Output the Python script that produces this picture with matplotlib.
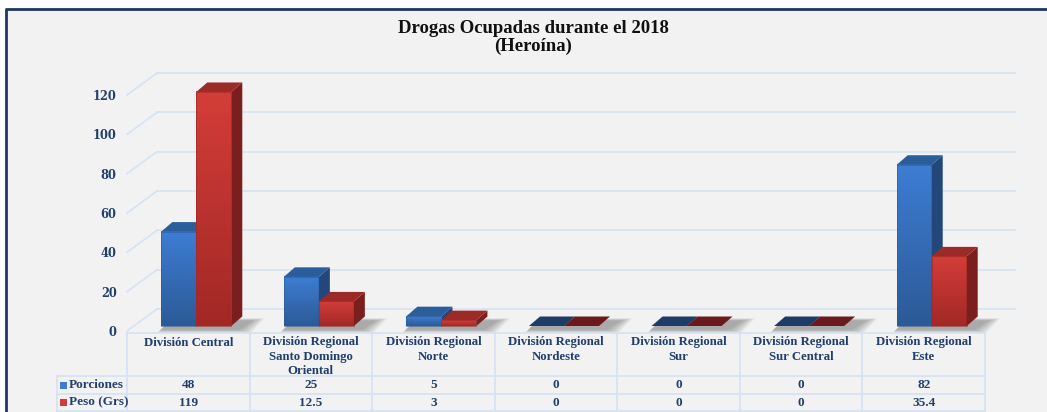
import numpy as np
import matplotlib
matplotlib.use("Agg")
import matplotlib.pyplot as plt
from matplotlib.patches import Polygon, Rectangle
from matplotlib.transforms import blended_transform_factory
from matplotlib.lines import Line2D
from matplotlib.colors import LinearSegmentedColormap

# ---------------- data ----------------
categories = ["División Central",
              "División Regional\nSanto Domingo\nOriental",
              "División Regional\nNorte",
              "División Regional\nNordeste",
              "División Regional\nSur",
              "División Regional\nSur Central",
              "División Regional\nEste"]
porciones = [48, 25, 5, 0, 0, 0, 82]
peso = [119, 12.5, 3, 0, 0, 0, 35.4]
porciones_labels = ["48", "25", "5", "0", "0", "0", "82"]
peso_labels = ["119", "12.5", "3", "0", "0", "0", "35.4"]
series_names = ["Porciones", "Peso (Grs)"]
yticks = [0, 20, 40, 60, 80, 100, 120]
title_text = "Drogas Ocupadas durante el 2018\n(Heroína)"

# ---------------- style ----------------
W, H = 1047, 412
FONT = ["Liberation Serif", "DejaVu Serif"]
NAVY = "#1f3864"
TXT = "#213f6e"
GRID = "#d6e3f3"
plt.rcParams["font.family"] = FONT

fig = plt.figure(figsize=(W / 100, H / 100), dpi=100)
fig.patch.set_facecolor("white")


def fx(px):
    return px / W


def fy(py):
    return 1 - py / H


# background panel + border
fig.patches.append(Rectangle((fx(5), 0), 1 - fx(5), fy(8), transform=fig.transFigure,
                             facecolor="#f2f2f2", edgecolor="none", zorder=-10))
fig.add_artist(Line2D([fx(5.5), fx(5.5)], [0, fy(8.5)], transform=fig.transFigure,
                      color=NAVY, lw=2, solid_capstyle="butt", zorder=-5))
fig.add_artist(Line2D([fx(4.5), 1], [fy(8.5), fy(8.5)], transform=fig.transFigure,
                      color=NAVY, lw=2, solid_capstyle="butt", zorder=-5))

fig.text(fx(533), fy(37.5), title_text, ha="center", va="center", fontsize=13.5,
         fontweight="bold", color="#111111", linespacing=1.1)

# main axes: front plane, value 0 at px 331, 120 at px 95
ax = fig.add_axes([fx(127), fy(331), 858 / W, (331 - 95) / H])
ax.set_zorder(1)
ax.set_xlim(-0.5, 6.5)
ax.set_ylim(0, 120)
ax.patch.set_visible(False)
for sp in ax.spines.values():
    sp.set_visible(False)
ax.set_xticks([])
ax.set_yticks(yticks)
ax.set_yticklabels([str(v) for v in yticks], fontsize=8.3, fontweight="bold", color=TXT,
                   family="DejaVu Serif")
ax.tick_params(axis="y", length=0, pad=7.5)

PX = 7 / 858.0      # data x per pixel
PY = 120 / 236.0    # data y per pixel

# 3D depth of floor/walls
FDX, FDY = 30 * PX, 22 * PY
for v in yticks:
    ax.plot([-0.5 + FDX, 6.5 + FDX], [v + FDY, v + FDY], color=GRID, lw=1.2,
            clip_on=False, zorder=1)
    ax.plot([-0.5, -0.5 + FDX], [v, v + FDY], color=GRID, lw=1.2, clip_on=False, zorder=1)

# bars
BW = 35 * PX
SHIFT = 8 * PX
BASE = 5 * PY
BDX, BDY = 11 * PX, 9.5 * PY

front_cols = [("#3d7dd3", "#2c5a97"), ("#d33d38", "#a22826")]
top_cols = ["#2c5d9b", "#9c2b28"]
side_cols = ["#23477b", "#7a1f1e"]
zero_cols = ["#1f3c66", "#6a1a1a"]
series = [porciones, peso]

for i in range(len(categories)):
    # soft shadow on the floor
    gx0 = i + SHIFT - BW
    gx1 = i + SHIFT + BW
    for k in range(6):
        e = (k + 1) * 2.2
        sh = Polygon([(gx0 - e * PX * 0.3, BASE - (3 + e * 0.3) * PY),
                      (gx1 + (6 + e) * PX, BASE - (3 + e * 0.3) * PY),
                      (gx1 + (6 + e) * PX + 14 * PX, BASE + (5 + e * 0.2) * PY),
                      (gx0 + 10 * PX, BASE + (5 + e * 0.2) * PY)],
                     closed=True, facecolor="#505050", edgecolor="none", alpha=0.09,
                     clip_on=False, zorder=2)
        ax.add_patch(sh)
    for s in range(2):
        v = series[s][i]
        x0 = i + SHIFT - BW + s * BW
        x1 = x0 + BW
        t = BASE + v
        z = 3 + s * 3
        if v > 0:
            cmap = LinearSegmentedColormap.from_list("g", [front_cols[s][1], front_cols[s][0]])
            grad = np.linspace(0, 1, 64).reshape(-1, 1)
            ax.imshow(grad, extent=[x0, x1, BASE, t], origin="lower", aspect="auto",
                      cmap=cmap, zorder=z, clip_on=False, interpolation="bilinear")
            ax.add_patch(Rectangle((x0, BASE), BW, v, facecolor="none",
                                   edgecolor=front_cols[s][1], lw=0.4, zorder=z + 0.1,
                                   clip_on=False))
            ax.add_patch(Polygon([(x1, BASE), (x1, t), (x1 + BDX, t + BDY), (x1 + BDX, BASE + BDY)],
                                 closed=True, facecolor=side_cols[s], edgecolor="none",
                                 zorder=z + 0.2, clip_on=False))
            ax.add_patch(Polygon([(x0, t), (x1, t), (x1 + BDX, t + BDY), (x0 + BDX, t + BDY)],
                                 closed=True, facecolor=top_cols[s], edgecolor="none",
                                 zorder=z + 0.3, clip_on=False))
        else:
            ax.add_patch(Polygon([(x0, t), (x1, t), (x1 + BDX, t + BDY), (x0 + BDX, t + BDY)],
                                 closed=True, facecolor=zero_cols[s], edgecolor="none",
                                 zorder=z + 0.3, clip_on=False))
ax.set_xlim(-0.5, 6.5)
ax.set_ylim(0, 120)

# ---------------- data table ----------------
bt = blended_transform_factory(ax.transData, fig.transFigure)
LINE = "#d5e2f2"
x_left = -0.5
x_right = 6.5
lab_left_px = 57
lab_left = x_left - (127 - lab_left_px) * PX

rows_y = [333, 376, 394, 411]
ax.add_line(Line2D([x_left, x_right], [fy(333), fy(333)], transform=bt, color=LINE, lw=1.2, clip_on=False))
for ry in rows_y[1:]:
    ax.add_line(Line2D([lab_left, x_right], [fy(ry), fy(ry)], transform=bt, color=LINE, lw=1.2, clip_on=False))
for j in range(len(categories) + 1):
    xb = -0.5 + j
    ax.add_line(Line2D([xb, xb], [fy(333), fy(411)], transform=bt, color=LINE, lw=1.2, clip_on=False))
ax.add_line(Line2D([lab_left, lab_left], [fy(376), fy(411)], transform=bt, color=LINE, lw=1.2, clip_on=False))

for i, c in enumerate(categories):
    ax.text(i, fy(336.5), c, transform=bt, ha="center", va="top", fontsize=9.2,
            fontweight="bold", color=TXT, linespacing=1.25)
    ax.text(i, fy(385.5), porciones_labels[i], transform=bt, ha="center", va="center",
            fontsize=9.5, fontweight="bold", color=TXT)
    ax.text(i, fy(402.5), peso_labels[i], transform=bt, ha="center", va="center",
            fontsize=9.5, fontweight="bold", color=TXT)

leg_cols = [front_cols[0][0], front_cols[1][0]]
for k, (name, yc) in enumerate(zip(series_names, [385.5, 402.5])):
    fig.patches.append(Rectangle((fx(60), fy(yc + 3.5)), 7 / W, 7 / H, transform=fig.transFigure,
                                 facecolor=leg_cols[k], edgecolor="none", zorder=5))
    fig.text(fx(69), fy(yc), name, ha="left", va="center", fontsize=9.5,
             fontweight="bold", color=TXT)

fig.savefig("out.png", dpi=100, facecolor=fig.get_facecolor())
